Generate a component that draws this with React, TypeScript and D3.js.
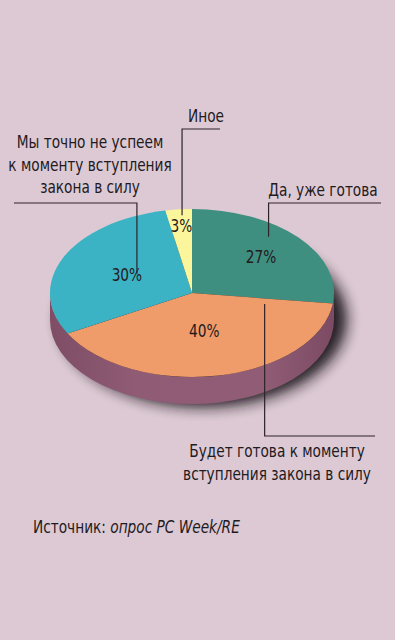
import React from 'react';
import * as d3 from 'd3';

// survey answers, clockwise from 12 o'clock
const categories = [
  'Да, уже готова',
  'Будет готова к моменту вступления закона в силу',
  'Мы точно не успеем к моменту вступления закона в силу',
  'Иное',
];
const values = [27, 40, 30, 3];
const labelLines = [
  ['Да, уже готова'],
  ['Будет готова к моменту', 'вступления закона в силу'],
  ['Мы точно не успеем', 'к моменту вступления', 'закона в силу'],
  ['Иное'],
];
const colors = ['#3f8f80', '#f09c6a', '#3bb3c4', '#fbf59c'];

const W = 395;
const H = 640;
const cx = 192;
const cy = 293;
const rx = 142;
const ry = 84;
const depth = 27;
const k = ry / rx;
const squeeze = 0.87; // condensed look

const font = "'Liberation Sans Narrow', 'DejaVu Sans Condensed', Roboto, sans-serif";

// where the % text sits inside each slice (radius in unsquashed pie units)
const pctRadius = [92, 65, 72, 114];
// leader lines: anchor inside slice (angle offset in slice 0..1, radius), elbow and label layout
const leaders = [
  { t: 0.4, r: 122, elbowY: 203, endX: 381, textX: 323, textY: 196, lh: 22 },
  { t: 0.05, r: 75, elbowY: 436, endX: 375, textX: 277, textY: 457, lh: 23 },
  { t: 0.55, r: 64, elbowY: 203, endX: 14, textX: 90, textY: 148, lh: 22.5 },
  { t: 0.6, r: 132, elbowY: 129, endX: 220, textX: 206, textY: 122, lh: 22 },
];

function Label({ x, y, children, anchor = 'middle', baseline }: any) {
  return (
    <text
      transform={`translate(${x},${y}) scale(${squeeze},1)`}
      textAnchor={anchor}
      dominantBaseline={baseline}
      fontSize={17.5}
      fill="#231a1e"
    >
      {children}
    </text>
  );
}

export default function App() {
  const arcs = d3.pie<number>().sort(null).value((d) => d)(values);
  const arc = d3.arc<d3.PieArcDatum<number>>().innerRadius(0).outerRadius(rx);

  const side = d3.path();
  side.moveTo(-rx, 0);
  side.arc(0, 0, rx, Math.PI, 0, true);
  side.lineTo(rx, depth / k);
  side.arc(0, depth / k, rx, 0, Math.PI, false);
  side.closePath();

  const polar = (a: number, r: number) => [cx + r * Math.sin(a), cy - r * Math.cos(a) * k];

  return (
    <svg width={W} height={H} style={{ position: 'absolute', left: 0, top: 0 }} fontFamily={font}>
      <defs>
        <filter id="blur" x="-30%" y="-30%" width="160%" height="160%">
          <feGaussianBlur stdDeviation="7" />
        </filter>
        <linearGradient id="sideGrad" x1="0" x2="1" y1="0" y2="0">
          <stop offset="0" stopColor="#7f4d66" />
          <stop offset="0.3" stopColor="#8f5b75" />
          <stop offset="0.75" stopColor="#915d76" />
          <stop offset="1" stopColor="#7c4a63" />
        </linearGradient>
      </defs>
      <rect width={W} height={H} fill="#dcc9d3" />

      <ellipse cx={cx + 11} cy={cy + depth * 0.6 + 10} rx={rx + 2} ry={ry + 4} fill="#1f171b" opacity={0.95} filter="url(#blur)" />

      <g transform={`translate(${cx},${cy}) scale(1,${k})`}>
        <path d={side.toString()} fill="url(#sideGrad)" />
        {arcs.map((a, i) => (
          <path key={categories[i]} d={arc(a) || ''} fill={colors[i]} />
        ))}
      </g>

      {arcs.map((a, i) => {
        const mid = (a.startAngle + a.endAngle) / 2;
        const [x, y] = polar(mid, pctRadius[i]);
        return (
          <Label key={'p' + i} x={x} y={y} baseline="central">
            {a.value}%
          </Label>
        );
      })}

      {arcs.map((a, i) => {
        const L = leaders[i];
        const ang = a.startAngle + (a.endAngle - a.startAngle) * L.t;
        const [x, y] = polar(ang, L.r);
        return (
          <g key={'l' + i}>
            <polyline
              points={`${x},${y} ${x},${L.elbowY} ${L.endX},${L.elbowY}`}
              fill="none"
              stroke="#2e2428"
              strokeWidth={1.2}
            />
            {labelLines[i].map((s, j) => (
              <Label key={j} x={L.textX} y={L.textY + j * L.lh}>
                {s}
              </Label>
            ))}
          </g>
        );
      })}

      <Label x={33} y={533} anchor="start">
        Источник: <tspan fontStyle="italic">опрос PC Week/RE</tspan>
      </Label>
    </svg>
  );
}
